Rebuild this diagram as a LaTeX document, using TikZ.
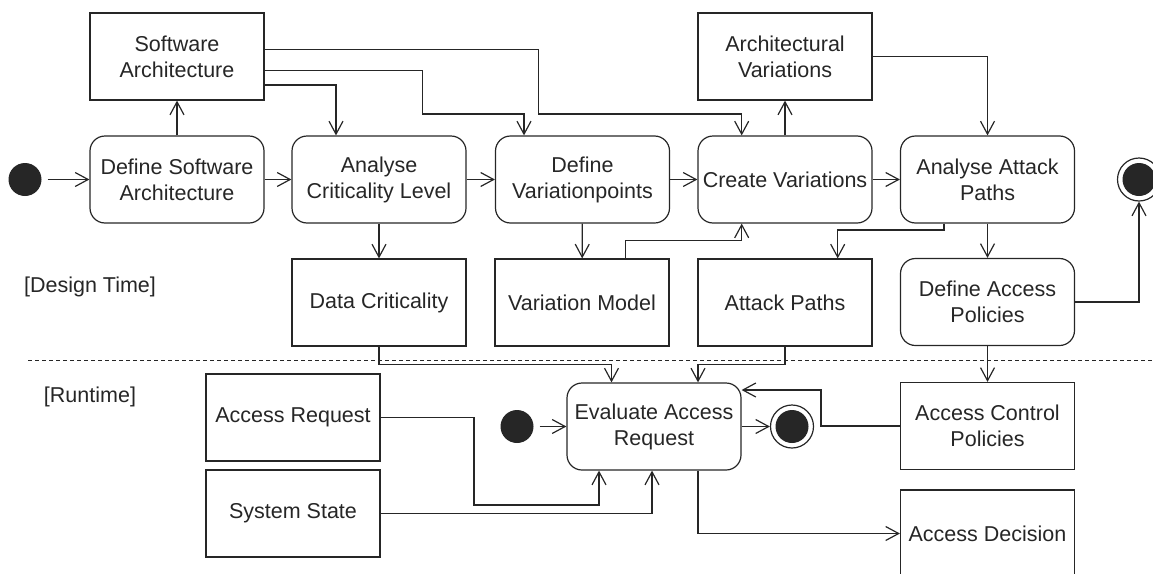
\documentclass[tikz,border=0pt]{standalone}
\usepackage{fontspec}
\setmainfont{Liberation Sans}
\usetikzlibrary{arrows.meta}
\definecolor{umlline}{RGB}{38,38,38}

\begin{document}
\begin{tikzpicture}[x=1pt,y=-1pt,>={Straight Barb[length=13pt,width=14pt]},
        every node/.style={font=\fontsize{21.5}{26}\selectfont, text=umlline},
        action/.style={draw=umlline, line width=1.2pt, rounded corners=15pt,
            minimum width=174pt, minimum height=87pt, align=center, inner sep=0pt},
        object/.style={draw=umlline, line width=1.2pt,
            minimum width=174pt, minimum height=87pt, align=center, inner sep=0pt},
        startnode/.style={circle, fill=umlline, minimum size=33pt, inner sep=0pt},
        endnode/.style={circle, draw=umlline, fill=white, line width=1.2pt,
            minimum size=43pt, inner sep=0pt},
        flow/.style={->, draw=umlline, line width=1.2pt}]
        \useasboundingbox (0,0) rectangle (1153,573);

        % Design time: actions
        \node[startnode] (init1) at (25,179.5) {};
        \node[action] (dsa)  at (177,179.5)   {Define Software\\Architecture};
        \node[action] (acl)  at (379,179.5)   {Analyse\\Criticality Level};
        \node[action] (dvp)  at (582.5,179.5) {Define\\Variationpoints};
        \node[action] (cvar) at (785,179.5)   {Create Variations};
        \node[action] (aap)  at (987.5,179.5) {Analyse Attack\\Paths};
        \node[action] (dap)  at (987.5,302)   {Define Access\\Policies};
        \node[endnode] (fin1) at (1139,179.5) {};
        \fill[umlline] (fin1.center) circle (16.5);

        % Design time: artefacts
        \node[object] (sarch)  at (177,56.5)   {Software\\Architecture};
        \node[object] (avar)   at (785,56.5)   {Architectural\\Variations};
        \node[object] (dcrit)  at (379,302.5)  {Data Criticality};
        \node[object] (vmodel) at (582,302.5)  {Variation Model};
        \node[object] (apaths) at (785,302.5)  {Attack Paths};

        % Swimlane labels and separator
        \node (design)  at (90,287) {[Design Time]};
        \node (runtime) at (90,397) {[Runtime]};
        \draw[umlline, line width=0.9pt, dash pattern=on 4pt off 3pt] (28,360) -- (1153,360);

        % Runtime
        \node[object] (areq)   at (293,417.5)  {Access Request};
        \node[object] (sstate) at (293,513.5)  {System State};
        \node[startnode] (init2) at (517,426.5) {};
        \node[action] (eval)   at (654,426.5)  {Evaluate Access\\Request};
        \node[endnode] (fin2)  at (792,426.5)  {};
        \fill[umlline] (fin2.center) circle (16.5);
        \node[object] (acp)    at (987.5,426)  {Access Control\\Policies};
        \node[object] (adec)   at (987.5,533.5) {Access Decision};

        % Control flow, top row
        \draw[flow, shorten <=6pt] (init1) -- (dsa);
        \draw[flow] (dsa) -- (acl);
        \draw[flow] (acl) -- (dvp);
        \draw[flow] (dvp) -- (cvar);
        \draw[flow] (cvar) -- (aap);
        \draw[flow] (aap) -- (dap);
        \draw[flow] (dap.east) -| (fin1.south);

        % Object flows at design time
        \draw[flow] (dsa) -- (sarch);
        \draw[flow] ([yshift=-28.5pt]sarch.east) -| ([xshift=-43pt]acl.north);
        \draw[flow] ([yshift=-14pt]sarch.east) -| (422.7,114) -| ([xshift=-58.5pt]dvp.north);
        \draw[flow] ([yshift=7pt]sarch.east) -| (538.7,114) -| ([xshift=-43.3pt]cvar.north);
        \draw[flow] (cvar) -- (avar);
        \draw[flow] (avar.east) -| (aap.north);
        \draw[flow] (acl) -- (dcrit);
        \draw[flow] (dvp) -- (vmodel);
        \draw[flow] ([xshift=43.7pt]vmodel.north) -- ++(0,-18.3) -| ([xshift=-43.3pt]cvar.south);
        \draw[flow] ([xshift=-43.5pt]aap.south) -- ++(0,6.3) -| ([xshift=52.7pt]apaths.north);

        % Object flows into runtime
        \draw[flow] (dcrit.south) -- ++(0,18) -| ([xshift=-42.5pt]eval.north);
        \draw[flow] (apaths.south) -- ++(0,18) -| ([xshift=44pt]eval.north);
        \draw[flow] (dap) -- (acp);
        \draw[flow] (acp.west) -| (821,390) -- ([yshift=36.5pt]eval.east);
        \draw[flow, shorten <=6pt] (init2) -- (eval);
        \draw[flow] (eval) -- (fin2);
        \draw[flow] (areq.east) -| (474,505) -| ([xshift=-55pt]eval.south);
        \draw[flow] (sstate.east) -| ([xshift=-2pt]eval.south);
        \draw[flow] ([xshift=44pt]eval.south) |- (adec.west);
\end{tikzpicture}
\end{document}
